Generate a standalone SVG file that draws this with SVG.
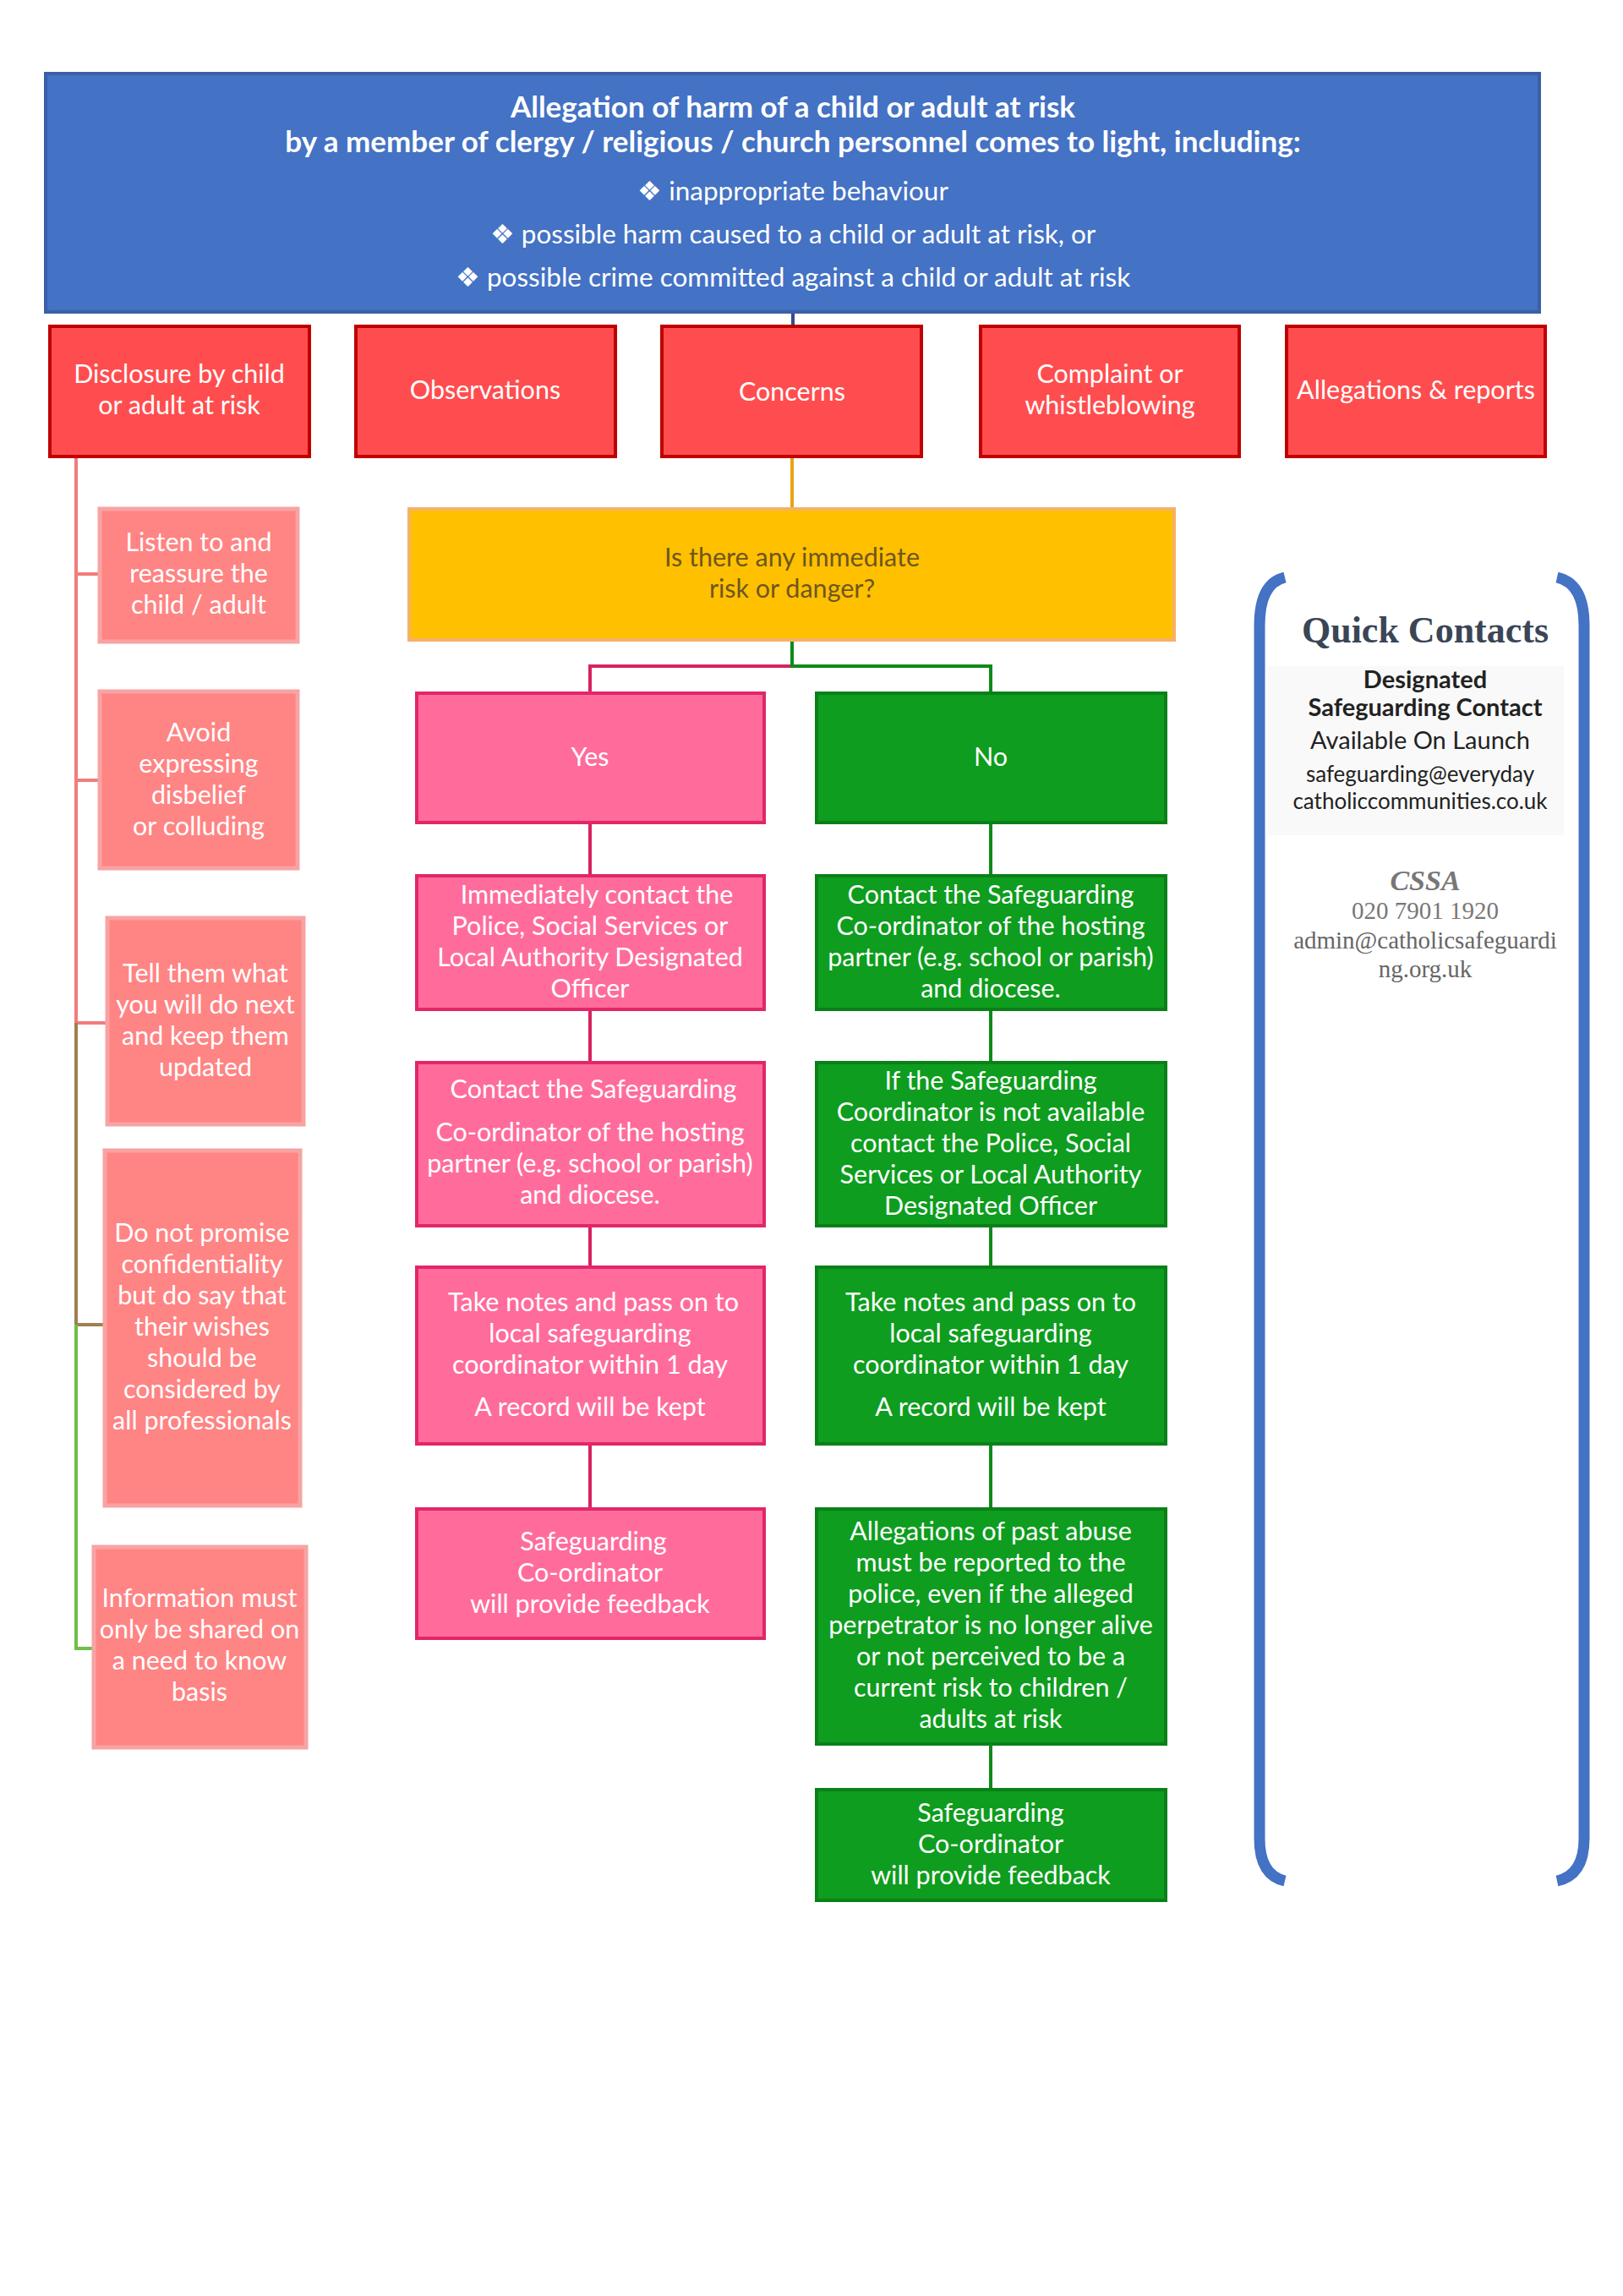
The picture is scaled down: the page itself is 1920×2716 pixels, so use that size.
<svg xmlns="http://www.w3.org/2000/svg" width="1920" height="2716" viewBox="0 0 1920 2716">
<style>
text{font-family:Lato,"Open Sans","Liberation Sans",sans-serif;fill:#fff;text-anchor:middle;font-size:30.5px}
.red{fill:#FF4D4F;stroke:#C00000;stroke-width:4}
.side{fill:#FF8484;stroke:#F7A3A3;stroke-width:5}
.pink{fill:#FF6C9C;stroke:#E2266A;stroke-width:4}
.green{fill:#0E9D1E;stroke:#0B8019;stroke-width:4}
.dk{fill:#222}
.h{font-weight:bold;font-size:35px}
.b{font-size:31.5px}
.serif{font-family:"Liberation Serif",serif}
</style>
<rect width="1920" height="2716" fill="#fff"/>
<g id="connectors" fill="none" stroke-width="4">
<line x1="938" y1="369" x2="938" y2="386" stroke="#2F4E8F"/>
<line x1="937" y1="540" x2="937" y2="602" stroke="#E8A317"/>
<path d="M937 757 V788 H698 V820" stroke="#D6245E"/>
<path d="M937 757 V788 H1172 V820" stroke="#0E8A1A"/>
<path d="M698 973 V1036 M698 1194 V1257 M698 1450 V1499 M698 1708 V1785" stroke="#D6245E"/>
<path d="M1172 973 V1036 M1172 1194 V1257 M1172 1450 V1499 M1172 1708 V1785 M1172 2063 V2117" stroke="#0E8A1A"/>
<path d="M90 540 V1210 M90 679 H118 M90 923 H118 M90 1210 H127" stroke="#F27C7C"/>
<path d="M90 1210 V1567 H124" stroke="#A08050"/>
<path d="M90 1567 V1950 H111" stroke="#6DBF4A"/>
</g>
<g id="top"><rect x="54" y="87" width="1767" height="282" fill="#4472C4" stroke="#3B5FA8" stroke-width="4"/>
<text x="938" y="139" class="h">Allegation of harm of a child or adult at risk</text>
<text x="938" y="180" class="h">by a member of clergy / religious / church personnel comes to light, including:</text>
<text x="938" y="237" class="b">❖ inappropriate behaviour</text>
<text x="938" y="288" class="b">❖ possible harm caused to a child or adult at risk, or</text>
<text x="938" y="339" class="b">❖ possible crime committed against a child or adult at risk</text></g>
<g id="disclosure"><rect class="red" x="59" y="386" width="307" height="154"/><text x="212" y="453">Disclosure by child</text><text x="212" y="490">or adult at risk</text></g>
<g id="observations"><rect class="red" x="421" y="386" width="307" height="154"/><text x="574" y="472">Observations</text></g>
<g id="concerns"><rect class="red" x="783" y="386" width="307" height="154"/><text x="937" y="474">Concerns</text></g>
<g id="complaint"><rect class="red" x="1160" y="386" width="306" height="154"/><text x="1313" y="453">Complaint or</text><text x="1313" y="490">whistleblowing</text></g>
<g id="allegations"><rect class="red" x="1522" y="386" width="306" height="154"/><text x="1675" y="472">Allegations &amp; reports</text></g>
<g id="question"><rect x="484" y="602" width="905" height="155" fill="#FFC000" stroke="#F4B266" stroke-width="4"/><text x="937" y="670" style="fill:#6E5620">Is there any immediate</text><text x="937" y="707" style="fill:#6E5620">risk or danger?</text></g>
<g id="yes"><rect class="pink" x="493" y="820" width="411" height="153"/><text x="698" y="906">Yes</text></g>
<g id="no"><rect class="green" x="966" y="820" width="413" height="153"/><text x="1172" y="906">No</text></g>
<g id="y2"><rect class="pink" x="493" y="1036" width="411" height="158"/><text x="706" y="1069">Immediately contact  the</text><text x="698" y="1106">Police, Social Services or</text><text x="698" y="1143">Local Authority Designated</text><text x="698" y="1180">Officer</text></g>
<g id="n2"><rect class="green" x="966" y="1036" width="413" height="158"/><text x="1172" y="1069">Contact  the Safeguarding</text><text x="1172" y="1106">Co-ordinator of the hosting</text><text x="1172" y="1143">partner (e.g. school or parish)</text><text x="1172" y="1180">and diocese.</text></g>
<g id="y3"><rect class="pink" x="493" y="1257" width="411" height="193"/><text x="702" y="1299">Contact the Safeguarding</text><text x="698" y="1350">Co-ordinator of the hosting</text><text x="698" y="1387">partner (e.g. school or parish)</text><text x="698" y="1424">and diocese.</text></g>
<g id="n3"><rect class="green" x="966" y="1257" width="413" height="193"/><text x="1172" y="1289">If the Safeguarding</text><text x="1172" y="1326">Coordinator is not available</text><text x="1172" y="1363">contact  the Police, Social</text><text x="1172" y="1400">Services or Local Authority</text><text x="1172" y="1437">Designated Officer</text></g>
<g id="y4"><rect class="pink" x="493" y="1499" width="411" height="209"/><text x="702" y="1551">Take notes and pass on to</text><text x="698" y="1588">local safeguarding</text><text x="698" y="1625">coordinator within 1 day</text><text x="698" y="1675">A record will be kept</text></g>
<g id="n4"><rect class="green" x="966" y="1499" width="413" height="209"/><text x="1172" y="1551">Take notes and pass on to</text><text x="1172" y="1588">local safeguarding</text><text x="1172" y="1625">coordinator within 1 day</text><text x="1172" y="1675">A record will be kept</text></g>
<g id="y5"><rect class="pink" x="493" y="1785" width="411" height="153"/><text x="702" y="1834">Safeguarding</text><text x="698" y="1871">Co-ordinator</text><text x="698" y="1908">will provide feedback</text></g>
<g id="n5"><rect class="green" x="966" y="1785" width="413" height="278"/><text x="1172" y="1822">Allegations of past abuse</text><text x="1172" y="1859">must be reported to the</text><text x="1172" y="1896">police,  even if the alleged</text><text x="1172" y="1933">perpetrator is no longer alive</text><text x="1172" y="1970">or not  perceived to be a</text><text x="1172" y="2007">current risk to children /</text><text x="1172" y="2044">adults at risk</text></g>
<g id="n6"><rect class="green" x="966" y="2117" width="413" height="131"/><text x="1172" y="2155">Safeguarding</text><text x="1172" y="2192">Co-ordinator</text><text x="1172" y="2229">will provide feedback</text></g>
<g id="s1"><rect class="side" x="118" y="602" width="234" height="157"/><text x="235" y="652">Listen to and</text><text x="235" y="689">reassure the</text><text x="235" y="726">child / adult</text></g>
<g id="s2"><rect class="side" x="118" y="818" width="234" height="209"/><text x="235" y="877">Avoid</text><text x="235" y="914">expressing</text><text x="235" y="951">disbelief</text><text x="235" y="988">or colluding</text></g>
<g id="s3"><rect class="side" x="127" y="1086" width="232" height="244"/><text x="243" y="1162">Tell them what</text><text x="243" y="1199">you will do next</text><text x="243" y="1236">and keep them</text><text x="243" y="1273">updated</text></g>
<g id="s4"><rect class="side" x="124" y="1361" width="231" height="420"/><text x="239" y="1469">Do not promise</text><text x="239" y="1506">confidentiality</text><text x="239" y="1543">but do say that</text><text x="239" y="1580">their wishes</text><text x="239" y="1617">should be</text><text x="239" y="1654">considered by</text><text x="239" y="1691">all professionals</text></g>
<g id="s5"><rect class="side" x="111" y="1830" width="251" height="237"/><text x="236" y="1901">Information must</text><text x="236" y="1938">only be shared on</text><text x="236" y="1975">a need to know</text><text x="236" y="2012">basis</text></g>
<g id="contacts">
<path d="M1520 683 Q1490 690 1490 740 V2175 Q1490 2218 1520 2225" fill="none" stroke="#4472C4" stroke-width="13"/>
<path d="M1842 683 Q1874 690 1874 740 V2175 Q1874 2218 1842 2225" fill="none" stroke="#4472C4" stroke-width="13"/>
<rect x="1500" y="788" width="350" height="200" fill="#F9F9F9"/>
<text x="1686" y="760" class="serif" style="fill:#3A4556;font-size:44px;font-weight:bold">Quick Contacts</text>
<text x="1686" y="814" class="dk" style="font-size:29px;font-weight:bold">Designated</text>
<text x="1686" y="847" class="dk" style="font-size:29px;font-weight:bold">Safeguarding Contact</text>
<text x="1680" y="886" class="dk" style="font-size:29px">Available On Launch</text>
<text x="1680" y="925" class="dk" style="font-size:26px">safeguarding@everyday</text>
<text x="1680" y="957" class="dk" style="font-size:26px">catholiccommunities.co.uk</text>
<text x="1686" y="1053" class="serif" style="fill:#777;font-size:34px;font-style:italic;font-weight:bold">CSSA</text>
<text x="1686" y="1087" class="serif" style="fill:#777;font-size:29px">020 7901 1920</text>
<text x="1686" y="1122" class="serif" style="fill:#666;font-size:29px">admin@catholicsafeguardi</text>
<text x="1686" y="1156" class="serif" style="fill:#666;font-size:29px">ng.org.uk</text>
</g>
</svg>
